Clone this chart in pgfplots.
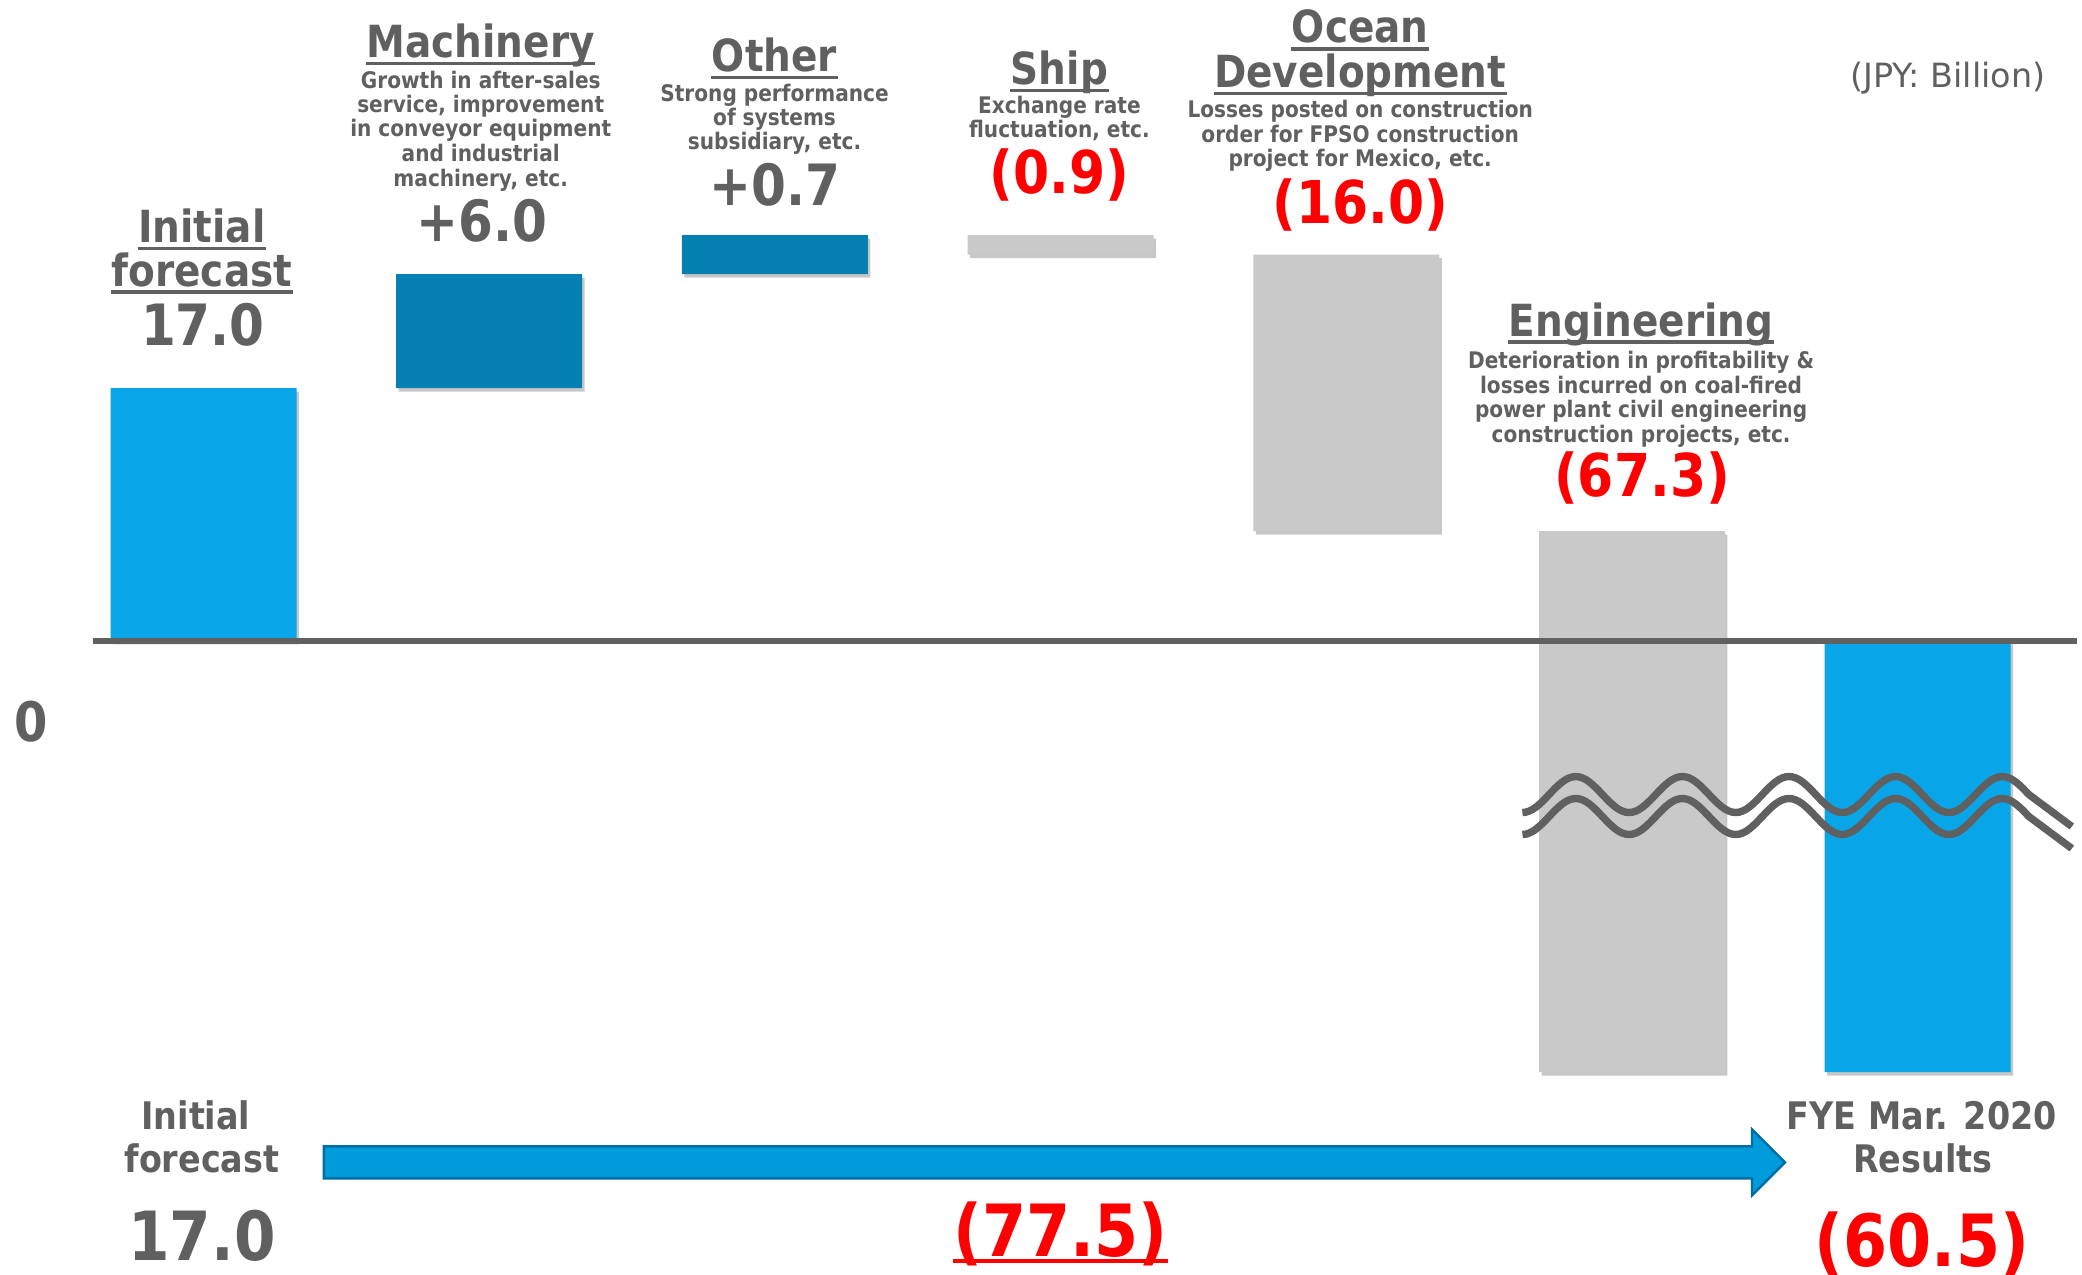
\documentclass[border=0pt]{standalone}
\usepackage{pgfplots}
\pgfplotsset{compat=1.18}
\usepackage{pgfplotstable}
\usetikzlibrary{shadows}
\usepackage{fontspec}
\setmainfont[FakeStretch=0.88]{DejaVu Sans}
\newfontfamily\regfont{DejaVu Sans}
\definecolor{txt}{RGB}{96,96,96}
\definecolor{lightblue}{RGB}{8,166,233}
\definecolor{darkblue}{RGB}{6,127,178}
\definecolor{barGrey}{RGB}{201,201,201}
\definecolor{arrowBlue}{RGB}{0,155,219}
\definecolor{arrowEdge}{RGB}{0,110,165}
\definecolor{redv}{RGB}{255,0,0}
\newcommand\fT{\bfseries\fontsize{12.6}{13}\selectfont}
\newcommand\fD{\bfseries\fontsize{6.5}{7}\selectfont}
\newcommand\fV{\bfseries\fontsize{16.2}{17}\selectfont}
\newcommand\fR{\bfseries\fontsize{16.8}{17}\selectfont}
\newcommand\fB{\bfseries\fontsize{10.8}{12}\selectfont}
\newcommand\fBV{\bfseries\fontsize{20.5}{21}\selectfont}
\newcommand\ttl[3]{\node[anchor=base,inner sep=0pt,text=txt,font=\fT] (tt) at (#1,#2) {#3};
  \draw[txt,line width=1.1pt] ([yshift=-1.6pt]tt.base west) -- ([yshift=-1.6pt]tt.base east);}
\newcommand\dl[3]{\node[anchor=base,inner sep=0pt,text=txt,font=\fD] at (#1,#2) {#3};}
\newcommand\val[3]{\node[anchor=base,inner sep=0pt,text=txt,font=\fV] at (#1,#2) {#3};}
\newcommand\rval[3]{\node[anchor=base,inner sep=0pt,text=redv,font=\fR] at (#1,#2) {#3};}
\tikzset{barshadow/.style={drop shadow={shadow xshift=0.7pt, shadow yshift=-1pt, opacity=0.22, fill=black}}}

% floating bars (picture units: the initial forecast bar = 17.0)
\pgfplotstableread{
x base light dark grey
0 0 17.00 0 0
1 17.00 0 7.66 0
2 24.66 0 2.62 0
3 25.97 0 0 1.31
4 7.39 0 0 18.58
5 -28.97 0 0 36.36
6 -28.97 28.97 0 0
}\bars

\begin{document}
\begin{tikzpicture}
\begin{axis}[at={(0,0)},anchor=south west,
  scale only axis, width=20.82cm, height=12.75cm,
  hide axis, clip=false,
  xmin=-0.7123, xmax=6.575, ymin=-42.608, ymax=43.078,
  ybar stacked, stack negative=on previous, bar width=0.651]
\addplot[draw=none, fill=none] table[x=x,y=base]{\bars};
\addplot[draw=none, fill=lightblue, barshadow] table[x=x,y=light]{\bars};
\addplot[draw=none, fill=darkblue, barshadow] table[x=x,y=dark]{\bars};
\addplot[draw=none, fill=barGrey, barshadow] table[x=x,y=grey]{\bars};
\end{axis}

\begin{scope}[shift={(current axis.north west)}, x=0.01cm, y=-0.01cm]
% zero line
\draw[txt, line width=1.7pt] (93,641.5) -- (2078,641.5);
% break marks
\foreach \d in {0,22}{
\begin{scope}[yshift=-\d*0.01cm]
\draw[txt, line width=2.1pt] (1523.3,813) cos (1550,795) sin (1576.7,777) cos (1603.3,795) sin (1630,813)
 cos (1656.7,795) sin (1683.3,777) cos (1710,795) sin (1736.7,813)
 cos (1763.3,795) sin (1790,777) cos (1816.7,795) sin (1843.3,813)
 cos (1870,795) sin (1896.7,777) cos (1923.3,795) sin (1950,813)
 cos (1976.7,795) sin (2003.3,777) cos (2030,795) -- (2073,827);
\end{scope}}
% arrow
\draw[fill=arrowBlue, draw=arrowEdge, line width=0.7pt] (324,1147) -- (1753,1147) -- (1753,1130) -- (1786,1163) -- (1753,1196) -- (1753,1179) -- (324,1179) -- cycle;

% titles
\ttl{202}{243}{Initial}
\ttl{202}{287}{forecast}
\ttl{481}{58}{Machinery}
\ttl{775}{72}{Other}
\ttl{1060}{85}{Ship}
\ttl{1361}{43}{Ocean}
\ttl{1361}{88}{Development}
\ttl{1642}{337}{Engineering}
% descriptions
\dl{481}{89}{Growth in after-sales}
\dl{481}{113}{service, improvement}
\dl{481}{137}{in conveyor equipment}
\dl{481}{162}{and industrial}
\dl{481}{187}{machinery, etc.}
\dl{775}{102}{Strong performance}
\dl{775}{126}{of systems}
\dl{775}{150}{subsidiary, etc.}
\dl{1060}{114}{Exchange rate}
\dl{1060}{138}{fluctuation, etc.}
\dl{1361}{118}{Losses posted on construction}
\dl{1361}{143}{order for FPSO construction}
\dl{1361}{167}{project for Mexico, etc.}
\dl{1642}{369}{Deterioration in profitability \&}
\dl{1642}{394}{losses incurred on coal-fired}
\dl{1642}{418}{power plant civil engineering}
\dl{1642}{443}{construction projects, etc.}
% values
\val{203}{346}{17.0}
\val{482}{242}{+6.0}
\val{775}{206}{+0.7}
\rval{1060}{194}{(0.9)}
\rval{1361}{224}{(16.0)}
\rval{1643}{497}{(67.3)}
\node[anchor=base,inner sep=0pt,text=txt,font=\bfseries\fontsize{15.5}{16}\selectfont] at (31,742) {0};
\node[anchor=base,inner sep=0pt,text=txt,font=\regfont\fontsize{9.5}{10}\selectfont] at (1949,88) {(JPY: Billion)};
% bottom
\node[anchor=base,inner sep=0pt,text=txt,font=\fB] at (196,1130) {Initial};
\node[anchor=base,inner sep=0pt,text=txt,font=\fB] at (202,1173) {forecast};
\node[anchor=base,inner sep=0pt,text=txt,font=\fB] at (1923,1130) {FYE Mar. 2020};
\node[anchor=base,inner sep=0pt,text=txt,font=\fB] at (1924,1173) {Results};
\node[anchor=base,inner sep=0pt,text=txt,font=\bfseries\fontsize{19.3}{20}\selectfont] at (202,1261) {17.0};
\node[anchor=base,inner sep=0pt,text=redv,font=\fBV] (u) at (1061,1257) {(77.5)};
\draw[redv,line width=1.1pt] ([yshift=-1.3pt]u.base west) -- ([yshift=-1.3pt]u.base east);
\node[anchor=base,inner sep=0pt,text=redv,font=\fBV] at (1923,1267) {(60.5)};
\end{scope}
\pgfresetboundingbox
\path (current axis.south west) rectangle (current axis.north east);
\end{tikzpicture}
\end{document}
